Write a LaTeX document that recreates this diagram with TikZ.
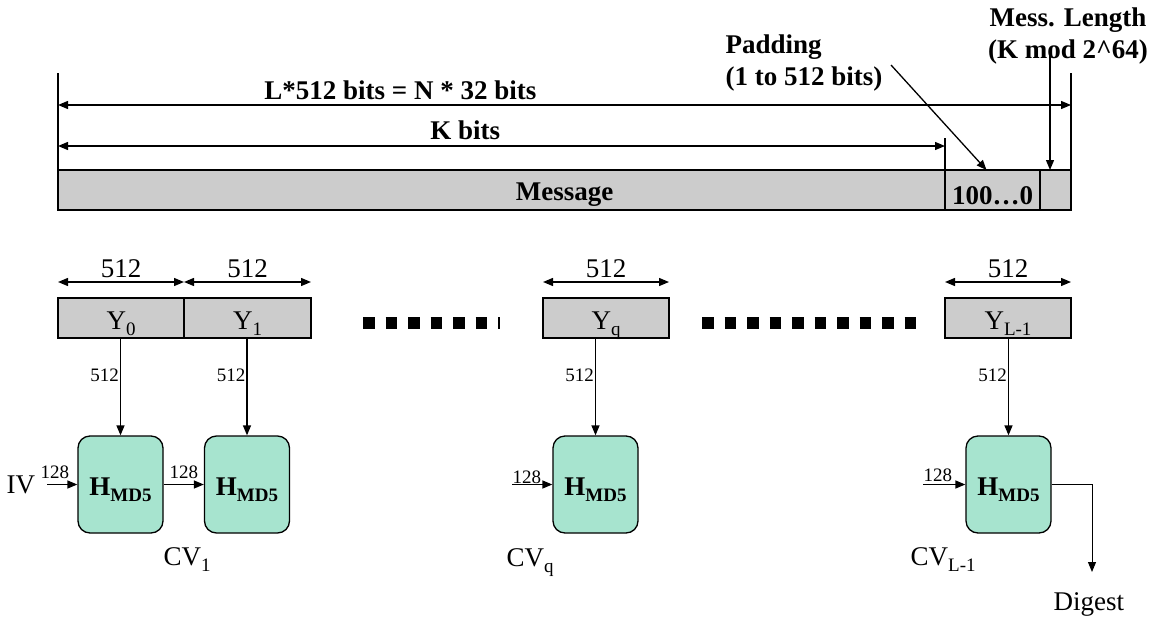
\documentclass[tikz,border=0pt]{standalone}
\usepackage{fontspec}
\setmainfont{Liberation Serif}
\usetikzlibrary{arrows.meta}

\definecolor{barfill}{RGB}{204,204,204}
\definecolor{hashfill}{RGB}{167,228,207}
\newcommand{\bigtext}{\fontsize{27}{32}\selectfont}
\newcommand{\smalltext}{\fontsize{19}{22}\selectfont}
\newcommand{\lowsub}[1]{\raisebox{-6pt}{\fontsize{19}{19}\selectfont #1}}

\begin{document}
\begin{tikzpicture}
[x=1pt,y=-1pt,line width=1.3pt,>={Triangle[length=10pt,width=8pt]},%
  every node/.style={inner sep=0pt,font=\bigtext},%
  bar/.style={draw,fill=barfill,minimum height=40pt,anchor=north west,%
    outer sep=0pt,text height=22pt,text depth=0pt},%
  hbox/.style={draw,fill=hashfill,rounded corners=12pt,minimum width=85pt,%
    minimum height=97pt,text height=22pt,text depth=0pt,font=\bigtext\bfseries},%
  small/.style={font=\smalltext},%
  dots/.style={line width=12pt,dash pattern=on 11.5pt off 11pt}]
\useasboundingbox (0,0) rectangle (1161,626);
%% message with padding and length
\node[bar,minimum width=887pt] (msg) at (58,170) {};
\node[bar,minimum width=95pt,text height=28pt,font=\bigtext\bfseries] (pad) at (msg.north east) {100\ldots0};
\node[bar,minimum width=31pt] (len) at (pad.north east) {};
\path (msg.west) -- (len.east)
  node[midway,text height=20pt,text depth=0pt,font=\bigtext\bfseries] {Message};
\draw (msg.north west) -- ++(0,-97);
\draw (len.north east) -- ++(0,-97);
\draw (pad.north west) -- ++(0,-32);
\draw[<->] ([yshift=65pt]msg.north west) -- ([yshift=65pt]len.north east)
  node[pos=0.338,anchor=base,yshift=6pt,font=\bigtext\bfseries] {L*512 bits = N * 32 bits};
\draw[<->] ([yshift=24pt]msg.north west) -- ([yshift=24pt]msg.north east)
  node[pos=0.459,anchor=base,yshift=7pt,font=\bigtext\bfseries] {K bits};
\node[align=left,anchor=north west,font=\bigtext\bfseries] (padtext) at (725,34) {Padding\\(1 to 512 bits)};
\node[align=center,anchor=north,font=\bigtext\bfseries] (lentext) at (1068,7) {Mess. Length\\(K mod 2\textasciicircum 64)};
\coordinate (padfrom) at (891,65);
\coordinate (lenfrom) at (1050,49);
\draw[->] (padfrom) -- ([xshift=-6pt]pad.north);
\draw[->] (lenfrom) -- (lenfrom |- len.north);
%% blocks
\node[bar,minimum width=126pt] (y0) at (58,298) {Y\lowsub{0}};
\node[bar,minimum width=127pt] (y1) at (y0.north east) {Y\lowsub{1}};
\node[bar,minimum width=126pt] (yq) at (543,298) {Y\lowsub{q}};
\node[bar,minimum width=126pt] (yl) at (945,298) {Y\lowsub{L-1}};
\foreach \b in {y0,y1,yq,yl}
  \draw[<->] ([yshift=16pt]\b.north west) -- ([yshift=16pt]\b.north east)
    node[midway,anchor=base,yshift=5pt] {512};
\draw[dots] (363,323) -- (500,323);
\draw[dots] (702,323) -- (916,323);
%% compression functions
\node[hbox] (h0) at (120.5,484.5) {H\lowsub{MD5}};
\node[hbox] (h1) at (247,484.5) {H\lowsub{MD5}};
\node[hbox] (hq) at (595.5,484.5) {H\lowsub{MD5}};
\node[hbox] (hl) at (1008.5,484.5) {H\lowsub{MD5}};
\foreach \b/\h in {y0/h0,y1/h1,yq/hq,yl/hl}
  \draw[->] (\b.south -| \h.north) -- (\h.north)
    node[pos=0.45,anchor=base east,small,xshift=-1pt] {512};
\node[anchor=base west] (ivtext) at (6,493) {IV};
\coordinate (iv) at (47,484.5);
\coordinate (inq) at (512,484.5);
\coordinate (inl) at (923,484.5);
\draw[->] (iv) -- (h0.west) node[pos=0,anchor=base west,small,xshift=-7pt,yshift=6pt] {128};
\draw[->] (h0.east) -- (h1.west) node[midway,anchor=base,small,yshift=6pt] {128};
\draw[->] (inq) -- (hq.west) node[pos=0,anchor=base west,small,yshift=1pt] {128};
\draw[->] (inl) -- (hl.west) node[pos=0,anchor=base west,small,yshift=3pt] {128};
\coordinate (dig) at (1092,572);
\draw[->,line width=1pt] (hl.east) -| (dig);
\node[anchor=base west] (digtext) at (1053,610) {Digest};
\node[anchor=base west] (cv1) at (163,565) {CV\lowsub{1}};
\node[anchor=base west] (cvq) at (506,566) {CV\lowsub{q}};
\node[anchor=base west] (cvl) at (910,565) {CV\lowsub{L-1}};
\end{tikzpicture}
\end{document}
